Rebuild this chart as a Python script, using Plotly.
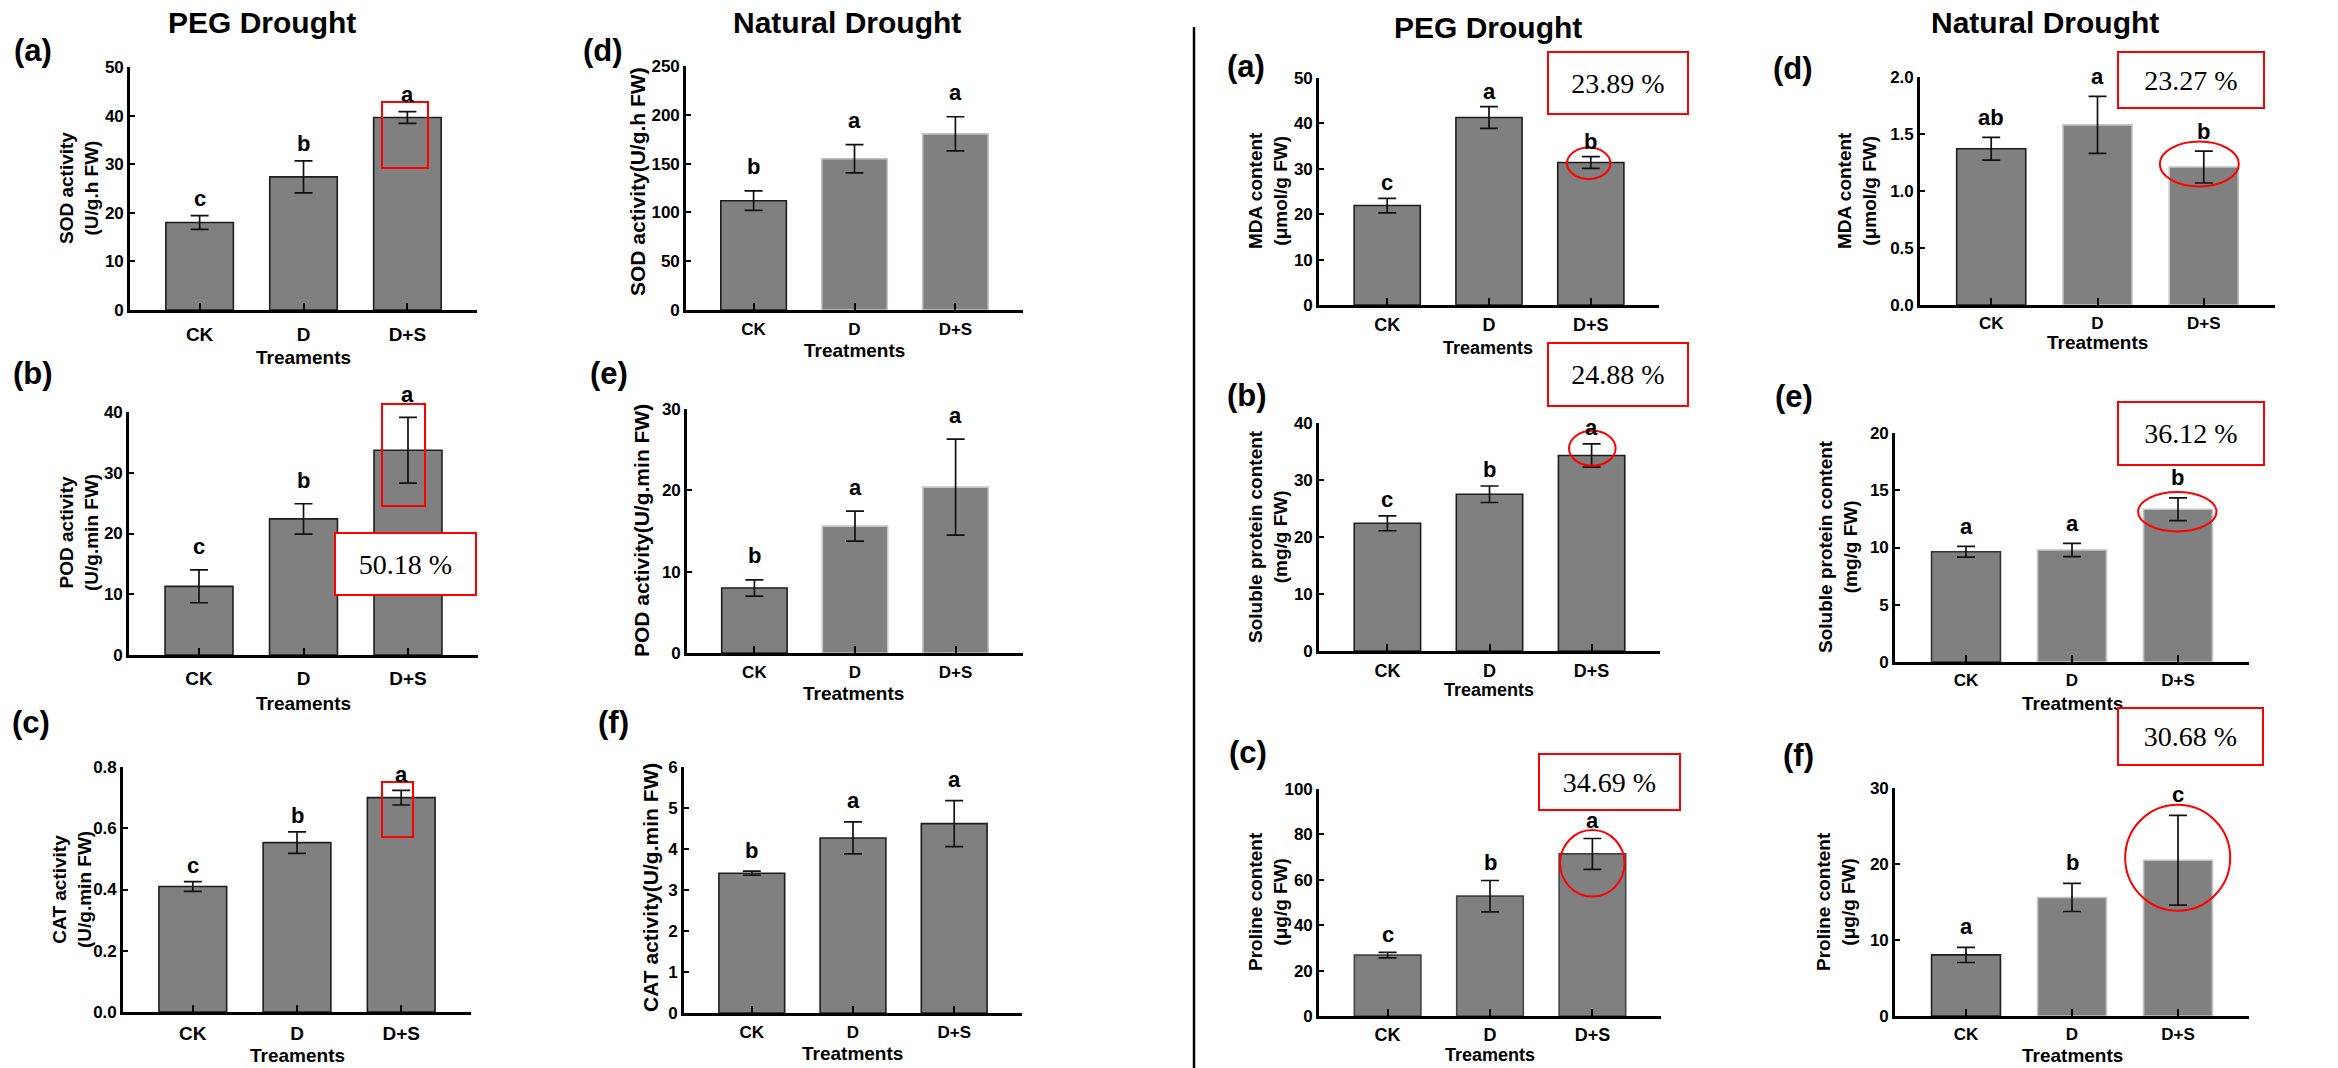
import plotly.graph_objects as go

W, H = 2338, 1068


def fx(px):
    return px / W


def fy(py):
    return 1 - py / H


# ---------------- data ----------------
categories = ["CK", "D", "D+S"]

sod_peg = [18.0, 27.4, 39.6]
sod_peg_err = [1.4, 3.3, 1.2]
sod_peg_letters = ["c", "b", "a"]

pod_peg = [11.3, 22.4, 33.7]
pod_peg_err = [2.7, 2.5, 5.4]
pod_peg_letters = ["c", "b", "a"]

cat_peg = [0.41, 0.553, 0.70]
cat_peg_err = [0.016, 0.035, 0.024]
cat_peg_letters = ["c", "b", "a"]

sod_nat = [112.0, 155.0, 180.5]
sod_nat_err = [10.0, 14.5, 17.5]
sod_nat_letters = ["b", "a", "a"]

pod_nat = [8.0, 15.6, 20.4]
pod_nat_err = [1.0, 1.85, 5.9]
pod_nat_letters = ["b", "a", "a"]

cat_nat = [3.41, 4.27, 4.62]
cat_nat_err = [0.05, 0.39, 0.56]
cat_nat_letters = ["b", "a", "a"]

mda_peg = [21.9, 41.3, 31.4]
mda_peg_err = [1.6, 2.4, 1.3]
mda_peg_letters = ["c", "a", "b"]

prot_peg = [22.4, 27.5, 34.3]
prot_peg_err = [1.3, 1.45, 2.05]
prot_peg_letters = ["c", "b", "a"]

pro_peg = [26.8, 52.8, 71.4]
pro_peg_err = [1.2, 6.9, 6.8]
pro_peg_letters = ["c", "b", "a"]

mda_nat = [1.37, 1.58, 1.21]
mda_nat_err = [0.10, 0.25, 0.14]
mda_nat_letters = ["ab", "a", "b"]

prot_nat = [9.63, 9.78, 13.34]
prot_nat_err = [0.47, 0.58, 1.0]
prot_nat_letters = ["a", "a", "b"]

pro_nat = [8.04, 15.6, 20.5]
pro_nat_err = [1.0, 1.85, 5.9]
pro_nat_letters = ["a", "b", "c"]

percent_labels = ["23.89 %", "24.88 %", "34.69 %", "23.27 %", "36.12 %", "30.68 %", "50.18 %"]

# ---------------- styles / layout specs ----------------
DARK = "#1e1e1e"
LIGHT = "#c4c4c4"
FONT = "Liberation Sans"
SERIF = "Liberation Serif"

panels = [
    dict(v=sod_peg, e=sod_peg_err, l=sod_peg_letters, box=(130, 477, 67, 310), ymax=50, dtick=10, fmt="",
         yt="SOD activity<br>(U/g.h FW)", ytp=(79, 188), yts=19, xt="Treaments", xtp=(303, 357), xts=19,
         lab="(a)", labp=(33, 50), gap=15, lc=[DARK] * 3, cs=19, so=5),
    dict(v=pod_peg, e=pod_peg_err, l=pod_peg_letters, box=(129, 478, 412, 655), ymax=40, dtick=10, fmt="",
         yt="POD activity<br>(U/g.min FW)", ytp=(79, 533), yts=19, xt="Treaments", xtp=(303, 703), xts=19,
         lab="(b)", labp=(33, 373), gap=21, lc=[DARK] * 3, cs=19, so=4),
    dict(v=cat_peg, e=cat_peg_err, l=cat_peg_letters, box=(123, 471, 767, 1012), ymax=0.8, dtick=0.2, fmt=".1f",
         yt="CAT activity<br>(U/g.min FW)", ytp=(72, 890), yts=19, xt="Treaments", xtp=(297, 1055), xts=19,
         lab="(c)", labp=(31, 722), gap=14, lc=[DARK] * 3, cs=19, so=2),
    dict(v=sod_nat, e=sod_nat_err, l=sod_nat_letters, box=(686, 1023, 66, 310), ymax=250, dtick=50, fmt="",
         yt="SOD activity(U/g.h FW)", ytp=(638, 182), yts=21, xt="Treatments", xtp=(854, 350), xts=19,
         lab="(d)", labp=(603, 50), gap=22, lc=[DARK, LIGHT, LIGHT], cs=17, so=2),
    dict(v=pod_nat, e=pod_nat_err, l=pod_nat_letters, box=(687, 1023, 409, 653), ymax=30, dtick=10, fmt="",
         yt="POD activity(U/g.min FW)", ytp=(642, 531), yts=21, xt="Treatments", xtp=(853, 693), xts=19,
         lab="(e)", labp=(609, 373), gap=22, lc=[DARK, LIGHT, LIGHT], cs=17, so=2),
    dict(v=cat_nat, e=cat_nat_err, l=cat_nat_letters, box=(684, 1022, 767, 1013), ymax=6, dtick=1, fmt="",
         yt="CAT activity(U/g.min FW)", ytp=(650, 888), yts=21, xt="Treatments", xtp=(852, 1053), xts=19,
         lab="(f)", labp=(613, 722), gap=19, lc=[DARK] * 3, cs=17, so=2),
    dict(v=mda_peg, e=mda_peg_err, l=mda_peg_letters, box=(1319, 1659, 78, 305), ymax=50, dtick=10, fmt="",
         yt="MDA content<br>(μmol/g FW)", ytp=(1268, 191), yts=19, xt="Treaments", xtp=(1488, 348), xts=18,
         lab="(a)", labp=(1246, 67), gap=13.5, lc=[DARK] * 3, cs=18, so=2),
    dict(v=prot_peg, e=prot_peg_err, l=prot_peg_letters, box=(1319, 1660, 423, 651), ymax=40, dtick=10, fmt="",
         yt="Soluble protein content<br>(mg/g FW)", ytp=(1268, 537), yts=19, xt="Treaments", xtp=(1489, 690),
         xts=18, lab="(b)", labp=(1247, 395), gap=14.5, lc=[DARK] * 3, cs=18, so=2),
    dict(v=pro_peg, e=pro_peg_err, l=pro_peg_letters, box=(1319, 1661, 789, 1016), ymax=100, dtick=20, fmt="",
         yt="Proline content<br>(μg/g FW)", ytp=(1268, 902), yts=19, xt="Treaments", xtp=(1490, 1055), xts=18,
         lab="(c)", labp=(1248, 752), gap=16, lc=["#444444"] * 3, cs=18, so=1),
    dict(v=mda_nat, e=mda_nat_err, l=mda_nat_letters, box=(1920, 2275, 77, 305), ymax=2.0, dtick=0.5, fmt=".1f",
         yt="MDA content<br>(μmol/g FW)", ytp=(1857, 191), yts=19, xt="Treatments", xtp=(2097, 342), xts=19,
         lab="(d)", labp=(1793, 68), gap=18, lc=[DARK, LIGHT, LIGHT], cs=17, so=1),
    dict(v=prot_nat, e=prot_nat_err, l=prot_nat_letters, box=(1895, 2249, 433, 662), ymax=20, dtick=5, fmt="",
         yt="Soluble protein content<br>(mg/g FW)", ytp=(1838, 547), yts=19, xt="Treatments", xtp=(2072, 703),
         xts=19, lab="(e)", labp=(1794, 397), gap=18, lc=["#333333", LIGHT, LIGHT], cs=17, so=1),
    dict(v=pro_nat, e=pro_nat_err, l=pro_nat_letters, box=(1895, 2249, 788, 1016), ymax=30, dtick=10, fmt="",
         yt="Proline content<br>(μg/g FW)", ytp=(1836, 902), yts=19, xt="Treatments", xtp=(2072, 1055), xts=19,
         lab="(f)", labp=(1798, 755), gap=19, lc=[DARK, LIGHT, LIGHT], cs=17, so=1),
]

titles = [("PEG Drought", (262, 22)), ("Natural Drought", (847, 22)),
          ("PEG Drought", (1488, 27)), ("Natural Drought", (2045, 22))]

# percent boxes: (x0, x1, y0, y1) in px
percent_boxes = [(1547, 1689, 51, 115), (1547, 1689, 342, 407), (1538, 1681, 753, 811),
                 (2117, 2265, 51, 109), (2117, 2265, 401, 466), (2117, 2264, 707, 766),
                 (334, 477, 532, 596)]
red_rects = [(382, 428, 102, 168), (382, 425, 404, 506), (382, 413, 782, 837)]
red_ellipses = [(1588.7, 163.3, 21.7, 15.7), (1592.3, 448.3, 23.3, 17.5), (1592.3, 863.3, 32.2, 33.3),
                (2199.3, 164.0, 39.5, 22.5), (2177.3, 511.7, 39.2, 19.7), (2177.7, 857.7, 52.5, 53.0)]

fig = go.Figure()
annotations = []
shapes = []
layout_axes = {}

for i, p in enumerate(panels, start=1):
    xn = "x" if i == 1 else f"x{i}"
    yn = "y" if i == 1 else f"y{i}"
    xk = "xaxis" if i == 1 else f"xaxis{i}"
    yk = "yaxis" if i == 1 else f"yaxis{i}"
    x0, x1, y0, y1 = p["box"]

    fig.add_trace(go.Bar(
        x=categories, y=p["v"], width=0.65, xaxis=xn, yaxis=yn, showlegend=False,
        marker=dict(color="#808080", line=dict(color=p["lc"], width=1.6)),
        error_y=dict(type="data", array=p["e"], visible=True, color="#111111", thickness=1.7, width=9),
        hoverinfo="skip",
    ))

    layout_axes[xk] = dict(
        domain=[fx(x0), fx(x1)], anchor=yn, range=[-0.67, 2.67], type="category", automargin=False,
        showline=True, linecolor="black", linewidth=2.6, ticks="inside", ticklen=7, tickwidth=2.3,
        tickcolor="black", showgrid=False, zeroline=False, fixedrange=True, ticklabelstandoff=p["so"],
        tickfont=dict(family=FONT, size=p["cs"], color="black", weight="bold"),
    )
    layout_axes[yk] = dict(
        domain=[fy(y1), fy(y0)], anchor=xn, range=[0, p["ymax"]], dtick=p["dtick"], tick0=0,
        tickformat=p["fmt"], showline=True, linecolor="black", linewidth=2.6, ticks="inside",
        ticklen=5, tickwidth=2.3, tickcolor="black", showgrid=False, zeroline=False, fixedrange=True,
        automargin=False, tickfont=dict(family=FONT, size=17, color="black", weight="bold"),
    )

    # significance letters
    for c, v, e, t in zip(categories, p["v"], p["e"], p["l"]):
        annotations.append(dict(
            x=c, y=v + e, xref=xn, yref=yn, text=t, showarrow=False, yanchor="middle",
            yshift=p["gap"] + 2, font=dict(family=FONT, size=22, color="black", weight="bold"),
        ))

    # y title
    annotations.append(dict(
        x=fx(p["ytp"][0]), y=fy(p["ytp"][1]), xref="paper", yref="paper", text=p["yt"],
        textangle=-90, showarrow=False, xanchor="center", yanchor="middle",
        font=dict(family=FONT, size=p["yts"], color="black", weight="bold"),
    ))
    # x title
    annotations.append(dict(
        x=fx(p["xtp"][0]), y=fy(p["xtp"][1]), xref="paper", yref="paper", text=p["xt"],
        showarrow=False, xanchor="center", yanchor="middle",
        font=dict(family=FONT, size=p["xts"], color="black", weight="bold"),
    ))
    # panel label
    annotations.append(dict(
        x=fx(p["labp"][0]), y=fy(p["labp"][1]), xref="paper", yref="paper", text=p["lab"],
        showarrow=False, xanchor="center", yanchor="middle",
        font=dict(family=FONT, size=31, color="black", weight="bold"),
    ))

for t, (cx, cy) in titles:
    annotations.append(dict(
        x=fx(cx), y=fy(cy), xref="paper", yref="paper", text=t, showarrow=False,
        xanchor="center", yanchor="middle",
        font=dict(family=FONT, size=30, color="black", weight="bold"),
    ))

for txt, (bx0, bx1, by0, by1) in zip(percent_labels, percent_boxes):
    annotations.append(dict(
        x=fx((bx0 + bx1) / 2), y=fy((by0 + by1) / 2), xref="paper", yref="paper", text=txt,
        showarrow=False, xanchor="center", yanchor="middle", width=bx1 - bx0 - 4,
        height=by1 - by0 - 4, borderpad=0, bordercolor="#ff0000", borderwidth=2, bgcolor="white",
        font=dict(family=SERIF, size=28, color="black"),
    ))

for (rx0, rx1, ry0, ry1) in red_rects:
    shapes.append(dict(type="rect", xref="paper", yref="paper", x0=fx(rx0), x1=fx(rx1),
                       y0=fy(ry1), y1=fy(ry0), line=dict(color="#ff0000", width=2)))

for (cx, cy, rx, ry) in red_ellipses:
    shapes.append(dict(type="circle", xref="paper", yref="paper", x0=fx(cx - rx), x1=fx(cx + rx),
                       y0=fy(cy + ry), y1=fy(cy - ry), line=dict(color="#ff0000", width=2)))

# divider line
shapes.append(dict(type="line", xref="paper", yref="paper", x0=fx(1194), x1=fx(1194),
                   y0=fy(1068), y1=fy(27), line=dict(color="black", width=2.5)))

fig.update_layout(
    width=W, height=H, margin=dict(l=0, r=0, t=0, b=0, pad=0, autoexpand=False),
    paper_bgcolor="white", plot_bgcolor="rgba(0,0,0,0)",
    annotations=annotations, shapes=shapes, bargap=0.35,
    **layout_axes,
)

fig.write_html(
    "out.html",
    config={"displayModeBar": False},
    post_script="document.body.style.margin='0';document.body.style.overflow='hidden';",
)
